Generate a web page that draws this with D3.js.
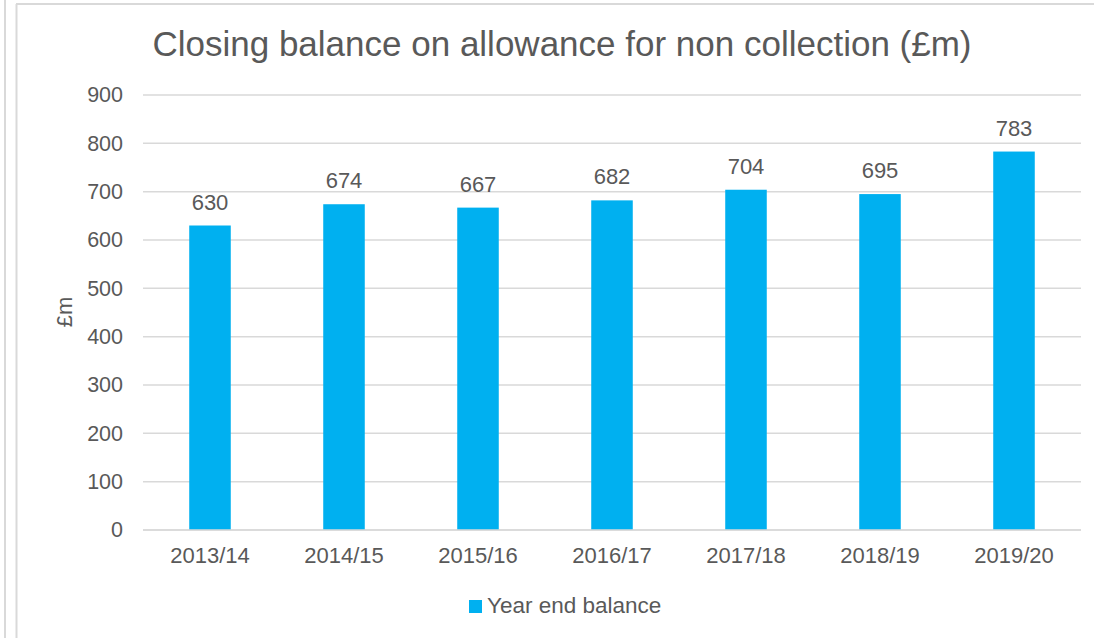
<!DOCTYPE html>
<html>
<head>
<meta charset="utf-8">
<title>Closing balance</title>
<style>
body { margin: 0; background: #fff; }
text { font-family: "Liberation Sans", Arial, sans-serif; fill: #595959; }
</style>
</head>
<body>
<script src="https://cdn.jsdelivr.net/npm/d3@7/dist/d3.min.js"></script>
<script>

var years = ["2013/14", "2014/15", "2015/16", "2016/17", "2017/18", "2018/19", "2019/20"];
var balance = [630, 674, 667, 682, 704, 695, 783];
var yTicks = [0, 100, 200, 300, 400, 500, 600, 700, 800, 900];

var w = 1094;
var h = 638;
var mLeft = 143, mRight = 1081, mTop = 95, mBottom = 530;

var svg = d3.select("body").append("svg")
    .attr("width", w)
    .attr("height", h);

// frame lines round the chart
svg.append("line").attr("x1", 5).attr("x2", 5).attr("y1", 0).attr("y2", h)
    .attr("stroke", "#d9d9d9").attr("stroke-width", 2);
svg.append("line").attr("x1", 16.5).attr("x2", 16.5).attr("y1", 4).attr("y2", h)
    .attr("stroke", "#d9d9d9").attr("stroke-width", 2);
svg.append("line").attr("x1", 16).attr("x2", w).attr("y1", 4).attr("y2", 4)
    .attr("stroke", "#d9d9d9").attr("stroke-width", 2);

var xScale = d3.scaleBand()
    .domain(years)
    .range([mLeft, mRight])
    .paddingInner(0.69)
    .paddingOuter(0.345);

var yScale = d3.scaleLinear()
    .domain([0, 900])
    .range([mBottom, mTop]);

// gridlines
svg.append("g")
    .selectAll("line")
    .data(yTicks)
    .enter()
    .append("line")
    .attr("x1", mLeft)
    .attr("x2", mRight)
    .attr("y1", function(d) { return yScale(d); })
    .attr("y2", function(d) { return yScale(d); })
    .attr("stroke", "#d9d9d9")
    .attr("stroke-width", 1.5);

var yAxis = d3.axisLeft(yScale).tickValues(yTicks).tickSize(0).tickPadding(20);
var gy = svg.append("g")
    .attr("transform", "translate(" + mLeft + ",0)")
    .call(yAxis);
gy.select(".domain").remove();
gy.selectAll("text").attr("font-size", "21.5px").attr("fill", "#595959")
    .style("font-family", "'Liberation Sans', Arial, sans-serif");

svg.selectAll("rect.bar")
    .data(balance)
    .enter()
    .append("rect")
    .attr("class", "bar")
    .attr("x", function(d, i) { return xScale(years[i]); })
    .attr("y", function(d) { return yScale(d); })
    .attr("width", xScale.bandwidth())
    .attr("height", function(d) { return yScale(0) - yScale(d); })
    .attr("fill", "#00b0f0");

// bottom axis line over the bars
svg.append("line")
    .attr("x1", mLeft).attr("x2", mRight)
    .attr("y1", yScale(0)).attr("y2", yScale(0))
    .attr("stroke", "#d9d9d9").attr("stroke-width", 1.5);

var xAxis = d3.axisBottom(xScale).tickSize(0).tickPadding(17);
var gx = svg.append("g")
    .attr("transform", "translate(0," + mBottom + ")")
    .call(xAxis);
gx.select(".domain").remove();
gx.selectAll("text").attr("font-size", "22px").attr("fill", "#595959")
    .style("font-family", "'Liberation Sans', Arial, sans-serif");

svg.selectAll("text.lbl")
    .data(balance)
    .enter()
    .append("text")
    .attr("class", "lbl")
    .text(function(d) { return d; })
    .attr("x", function(d, i) { return xScale(years[i]) + xScale.bandwidth() / 2; })
    .attr("y", function(d) { return yScale(d) - 16; })
    .attr("text-anchor", "middle")
    .attr("font-size", "22px");

svg.append("text")
    .attr("x", 562)
    .attr("y", 56)
    .attr("text-anchor", "middle")
    .attr("font-size", "35px")
    .text("Closing balance on allowance for non collection (£m)");

svg.append("text")
    .attr("transform", "translate(72,312) rotate(-90)")
    .attr("text-anchor", "middle")
    .attr("font-size", "22px")
    .text("£m");

// legend
svg.append("rect")
    .attr("x", 469).attr("y", 600)
    .attr("width", 13).attr("height", 13)
    .attr("fill", "#00b0f0");
svg.append("text")
    .attr("x", 487).attr("y", 613)
    .attr("font-size", "22.5px")
    .text("Year end balance");

</script>
</body>
</html>
